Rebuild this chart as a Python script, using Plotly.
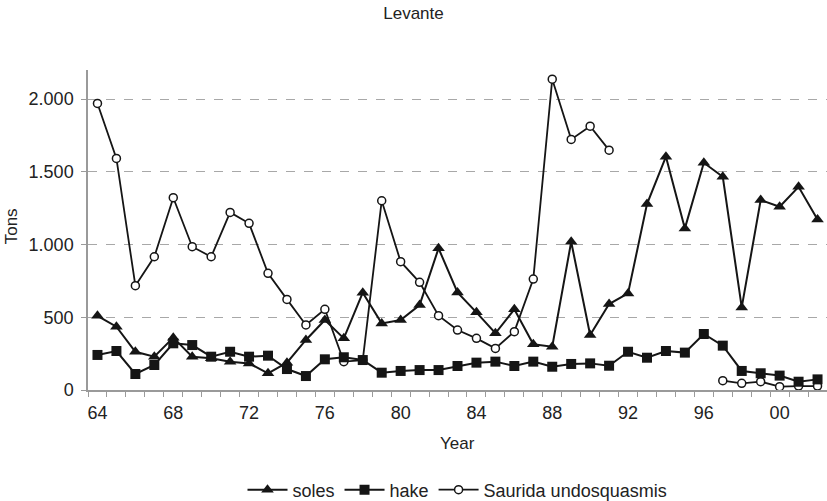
import plotly.graph_objects as go

years = list(range(1964, 2003))

soles = [510, 435, 263, 229, 360, 229, 218, 195, 183, 115,
         188, 344, 481, 355, 669, 458, 481, 584, 974, 671,
         534, 390, 555, 314, 298, 1019, 378, 591, 664, 1278,
         1604, 1111, 1562, 1466, 568, 1306, 1260, 1397, 1173]

hake = [241, 268, 110, 172, 321, 309, 229, 263, 229, 236,
        144, 96, 211, 225, 206, 119, 131, 137, 137, 165,
        188, 195, 165, 195, 160, 179, 183, 167, 263, 222,
        268, 257, 385, 305, 131, 115, 99, 57, 73]

saurida = [1970, 1592, 717, 916, 1322, 985, 916, 1221, 1146, 802,
           623, 447, 555, 195, 206, 1301, 882, 740, 511, 412,
           355, 286, 401, 763, 2137, 1723, 1814, 1649, None, None,
           None, None, None, 64, 46, 57, 23, 27, 27]

label_years = [1964, 1968, 1972, 1976, 1980, 1984, 1988, 1992, 1996, 2000]
label_text = ["64", "68", "72", "76", "80", "84", "88", "92", "96", "00"]
y_ticks = [0, 500, 1000, 1500, 2000]
y_text = ["0", "500", "1.000", "1.500", "2.000"]

ink = "#151515"
txt = "#222"
font = "Liberation Sans, Arial, sans-serif"

fig = go.Figure()
fig.add_trace(go.Scatter(
    x=years, y=saurida, name="Saurida undosquasmis", mode="lines+markers",
    legendrank=3, cliponaxis=False,
    line=dict(color=ink, width=1.8),
    marker=dict(symbol="circle", size=8, color="white", line=dict(color=ink, width=1.5)),
    connectgaps=False))
fig.add_trace(go.Scatter(
    x=years, y=soles, name="soles", mode="lines+markers",
    legendrank=1, cliponaxis=False,
    line=dict(color=ink, width=2),
    marker=dict(symbol="triangle-up", size=11, color=ink)))
fig.add_trace(go.Scatter(
    x=years, y=hake, name="hake", mode="lines+markers",
    legendrank=2, cliponaxis=False,
    line=dict(color=ink, width=2),
    marker=dict(symbol="square", size=10, color=ink)))

fig.update_layout(
    width=827, height=501,
    margin=dict(l=88, r=0, t=70, b=111, autoexpand=False),
    paper_bgcolor="white", plot_bgcolor="white",
    font=dict(family=font, size=18, color=txt),
    title=dict(text="Levante", x=0.5, xref="container", xanchor="center",
               y=1 - 13.5 / 501, yref="container", yanchor="middle",
               font=dict(size=17, color=txt)),
    showlegend=True,
    legend=dict(orientation="h", x=0.5, xanchor="center",
                yref="container", y=(501 - 490) / 501, yanchor="middle",
                font=dict(size=18, color=txt),
                itemwidth=40, bgcolor="rgba(0,0,0,0)"),
    xaxis=dict(
        range=[1963.5, 2002.5], showgrid=False, zeroline=False, automargin=False,
        showline=True, linecolor="#9a9a9a", linewidth=1.5,
        tickvals=label_years, ticktext=label_text, ticks="",
        ticklabelstandoff=6,
        tickfont=dict(size=18, color=txt),
        minor=dict(tick0=1963.5, dtick=1, ticks="outside", ticklen=5,
                   tickcolor="#9a9a9a", tickwidth=1, showgrid=False),
    ),
    yaxis=dict(
        range=[0, 2200], showgrid=True, gridcolor="#a8a8a8", griddash="dash", gridwidth=1,
        zeroline=False, showline=True, linecolor="#9a9a9a", linewidth=1.5, automargin=False,
        tickvals=y_ticks, ticktext=y_text, ticks="outside", ticklen=5,
        ticklabelstandoff=4,
        tickcolor="#9a9a9a", tickfont=dict(size=18, color=txt),
    ),
    annotations=[
        dict(text="Tons", textangle=-90, xref="paper", yref="paper",
             x=-(88 - 11.5) / 739, y=0.51, xanchor="center", yanchor="middle",
             showarrow=False, font=dict(size=17, color=txt)),
        dict(text="Year", xref="paper", yref="paper",
             x=0.5, y=-(443 - 390) / 320, xanchor="center", yanchor="middle",
             showarrow=False, font=dict(size=17, color=txt)),
    ],
)

fig.write_html("out.html",
               config={"displayModeBar": False},
               post_script="document.body.style.margin='0';document.body.style.padding='0';")
